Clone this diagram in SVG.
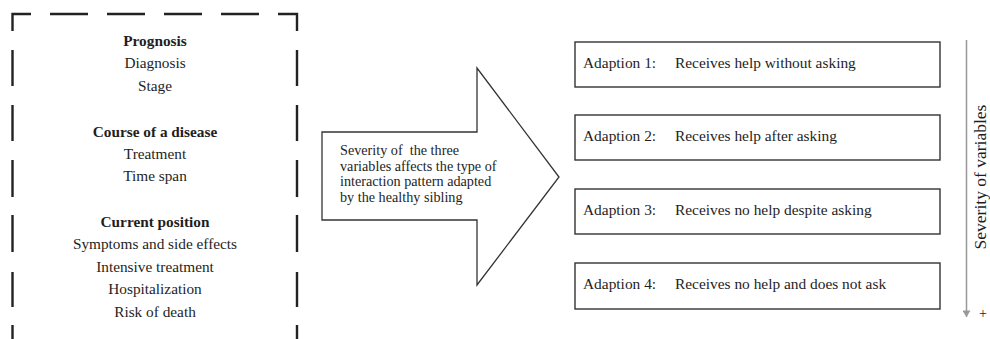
<svg xmlns="http://www.w3.org/2000/svg" width="990" height="339" viewBox="0 0 990 339">
<defs>
<style>
.t{font-family:"Liberation Serif","Times New Roman",serif;fill:#1e1e1e}
.c{text-anchor:middle;font-size:15.3px}
.b{font-weight:bold}
.dash{stroke:#222;stroke-width:2.4;fill:none}
.box{fill:#fff;stroke:#333;stroke-width:1.4}
.a{font-size:15.4px}
.s{font-size:14.2px}
</style>
<marker id="ah" markerWidth="10" markerHeight="8" refX="8" refY="5" orient="auto" markerUnits="userSpaceOnUse" viewBox="0 0 8 10">
<path d="M0,0 L8,5 L0,10 Z" fill="#999"/>
</marker>
</defs>
<rect width="990" height="339" fill="#fff"/>

<g id="factors">
<path class="dash" d="M12.5,31 V14 H31 M50,14 H88 M107,14 H145 M164,14 H202 M221,14 H259 M278,14 H297 V31 M12.5,50 V86 M12.5,105 V141 M12.5,160 V197 M12.5,215 V252 M12.5,272 V307 M12.5,325 V339 M297,50 V86 M297,105 V141 M297,160 V197 M297,215 V252 M297,272 V307 M297,325 V339"/>
<text class="t c b" x="155" y="46">Prognosis</text>
<text class="t c" x="155" y="68">Diagnosis</text>
<text class="t c" x="155" y="91">Stage</text>
<text class="t c b" x="155" y="137">Course of a disease</text>
<text class="t c" x="155" y="159">Treatment</text>
<text class="t c" x="155" y="181">Time span</text>
<text class="t c b" x="155" y="227">Current position</text>
<text class="t c" x="155" y="249">Symptoms and side effects</text>
<text class="t c" x="155" y="272">Intensive treatment</text>
<text class="t c" x="155" y="294">Hospitalization</text>
<text class="t c" x="155" y="317">Risk of death</text>
</g>

<g id="bigarrow">
<path d="M322,132 H477 V68 L559,177 L477,285 V220 H322 Z" fill="#fff" stroke="#333" stroke-width="1.3" stroke-linejoin="miter"/>
<text class="t s" x="340" y="155" style="white-space:pre">Severity of  the three</text>
<text class="t s" x="340" y="171">variables affects the type of</text>
<text class="t s" x="340" y="186">interaction pattern adapted</text>
<text class="t s" x="340" y="202">by the healthy sibling</text>
</g>

<g id="adaption1">
<rect class="box" x="575" y="42" width="365" height="45"/>
<text class="t a" x="583" y="68">Adaption 1:</text>
<text class="t a" x="675" y="68">Receives help without asking</text>
</g>
<g id="adaption2">
<rect class="box" x="575" y="115" width="365" height="45"/>
<text class="t a" x="583" y="141">Adaption 2:</text>
<text class="t a" x="675" y="141">Receives help after asking</text>
</g>
<g id="adaption3">
<rect class="box" x="575" y="189" width="365" height="45"/>
<text class="t a" x="583" y="215">Adaption 3:</text>
<text class="t a" x="675" y="215">Receives no help despite asking</text>
</g>
<g id="adaption4">
<rect class="box" x="575" y="263" width="365" height="46"/>
<text class="t a" x="583" y="289">Adaption 4:</text>
<text class="t a" x="675" y="289">Receives no help and does not ask</text>
</g>

<g id="connectors">
<line x1="966.5" y1="40" x2="966.5" y2="317" stroke="#999" stroke-width="1.5" marker-end="url(#ah)"/>
</g>

<g id="severity">
<text class="t" font-size="17.5" transform="translate(985.5,177) rotate(-90)" text-anchor="middle">Severity of variables</text>
<text class="t" font-size="14" x="983" y="318" text-anchor="middle">+</text>
</g>
</svg>
